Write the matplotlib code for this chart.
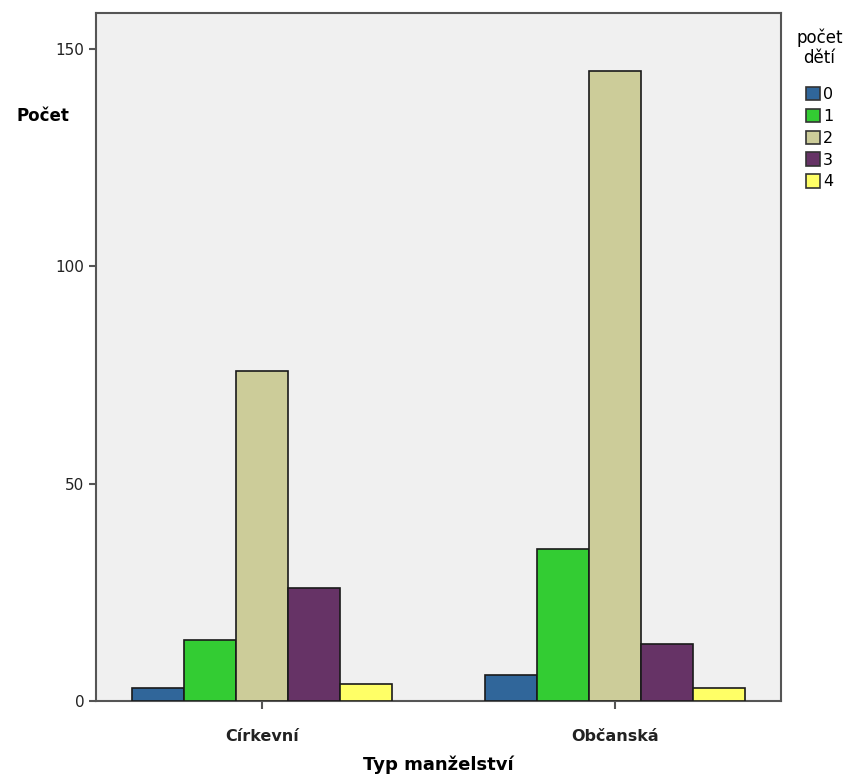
import matplotlib
matplotlib.use("Agg")
import matplotlib.pyplot as plt
import numpy as np
from matplotlib.patches import Patch

categories = ["Církevní", "Občanská"]
series_labels = ["0", "1", "2", "3", "4"]
values = {
    "0": [3, 6],
    "1": [14, 35],
    "2": [76, 145],
    "3": [26, 13],
    "4": [4, 3],
}
colors = ["#30669A", "#33CC33", "#CCCC99", "#663366", "#FFFF66"]

plt.rcParams['font.family'] = ['DejaVu Sans']
fig = plt.figure(figsize=(8.52, 7.81), dpi=100)
ax = fig.add_axes([96/852, 1-701/781, (781-96)/852, (701-13)/781])
ax.set_facecolor("#F0F0F0")

x = np.arange(len(categories))
w = 0.147
n = len(series_labels)
for i, (lab, c) in enumerate(zip(series_labels, colors)):
    ax.bar(x + (i - (n-1)/2) * w, values[lab], width=w, color=c,
           edgecolor="#1a1a1a", linewidth=1.2, label=lab, zorder=3)

ax.set_xlim(-0.47, 1.47)
ax.set_ylim(0, 158.3)
ax.set_yticks([0, 50, 100, 150])
ax.set_xticks(x)
ax.set_xticklabels(categories, fontsize=11.5, fontweight="bold", color="#222222")
ax.tick_params(axis='x', length=6, width=1.5, color="#555555", pad=14)
ax.tick_params(axis='y', length=5, width=1.5, color="#555555", labelsize=11, labelcolor="#222222")
for s in ax.spines.values():
    s.set_color("#555555")
    s.set_linewidth(1.5)

fig.text(43/852, 1-116/781, "Počet", fontsize=12, fontweight="bold", ha="center", va="center")
fig.text(438/852, 1-765/781, "Typ manželství", fontsize=13, fontweight="bold", ha="center", va="center")

handles = [Patch(facecolor=c, edgecolor="#333333", linewidth=1.2) for c in colors]
leg = fig.legend(handles, series_labels, title="počet\ndětí", loc="upper left",
                 bbox_to_anchor=(785/852, 1-17/781), frameon=False, fontsize=11.5,
                 title_fontsize=12, handlelength=0.9, handleheight=0.9,
                 handletextpad=0.2, labelspacing=0.42, borderpad=0.2)
leg.get_title().set_multialignment("center")
leg._legend_box.sep = 14

fig.savefig("out.png", dpi=100)
